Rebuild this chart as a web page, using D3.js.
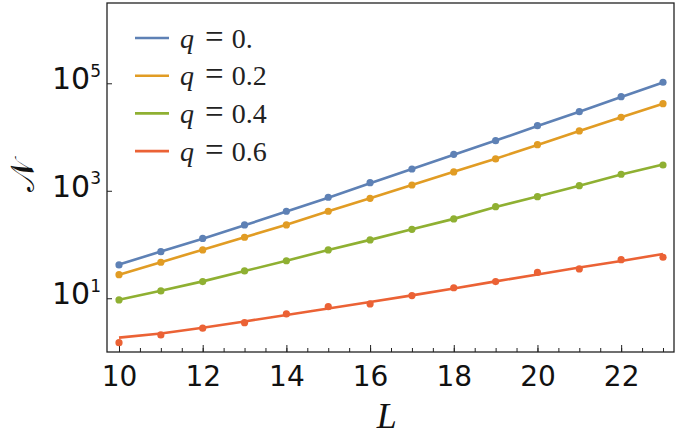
<!DOCTYPE html>
<html>
<head>
<meta charset="utf-8">
<script src="https://cdn.jsdelivr.net/npm/d3@7"></script>
<style>
  body { margin: 0; background: #fff; }
  svg { display: block; }
</style>
</head>
<body>
<div id="chart"></div>
<script>
// sizes of the svg and the frame
var svgWidth = 677;
var svgHeight = 437;
var margin = { top: 3, right: 3, bottom: 85, left: 107 };
var width = svgWidth - margin.left - margin.right;
var height = svgHeight - margin.top - margin.bottom;

// data
var sizes = [10, 11, 12, 13, 14, 15, 16, 17, 18, 19, 20, 21, 22, 23];
var qLabels = ["0.", "0.2", "0.4", "0.6"];
var colors = ["#5E81B5", "#E19C24", "#8FB032", "#EB6235"];

// points
var countQ0 = [41.7, 73.6, 130, 231, 416, 757, 1416, 2540, 4775, 8550, 16250, 29630, 56360, 104500];
var countQ2 = [27.5, 46.8, 79.2, 136.5, 231, 416, 725, 1281, 2238, 3908, 7211, 12970, 23300, 41700];
var countQ4 = [9.3, 13.7, 20.4, 32.2, 49.9, 79.2, 121.6, 192, 299, 506, 777, 1245, 2028, 3020];
var countQ6 = [1.49, 2.08, 2.77, 3.52, 5.10, 6.98, 7.83, 11.2, 15.7, 20.4, 30.2, 35.1, 52.2, 57.9];

// fitted curves (drawn as lines)
var fitQ0 = [42.5, 74, 128, 228, 410, 745, 1380, 2540, 4700, 8600, 16000, 29500, 55500, 103000];
var fitQ2 = [27.5, 47, 80, 137, 233, 415, 725, 1281, 2250, 3950, 7100, 12900, 23300, 41700];
var fitQ4 = [9.4, 13.8, 20.6, 32, 50, 79, 122, 192, 300, 500, 780, 1240, 2000, 3080];
var fitQ6 = [1.85, 2.21, 2.83, 3.70, 4.89, 6.46, 8.53, 11.3, 15.2, 20.6, 27.7, 37.4, 49.4, 66.7];

var counts = [countQ0, countQ2, countQ4, countQ6];
var fits = [fitQ0, fitQ2, fitQ4, fitQ6];

var yTickValues = [10, 1000, 100000];
var yTickPowers = ["1", "3", "5"];

var svg = d3.select("#chart")
  .append("svg")
  .attr("width", svgWidth)
  .attr("height", svgHeight);

var chartGroup = svg.append("g")
  .attr("transform", `translate(${margin.left}, ${margin.top})`);

// scales
var xScale = d3.scaleLinear()
  .domain([9.713, 23.263])
  .range([0, width]);

var yScale = d3.scaleLog()
  .domain([1, Math.pow(10, 6.494)])
  .range([height, 0]);

// bottom axis: minor ticks every 0.5, labels every 2
var xMinor = d3.range(20, 47).map(d => d / 2);
chartGroup.append("g")
  .attr("transform", `translate(0, ${height})`)
  .call(d3.axisBottom(xScale).tickValues(xMinor).tickSize(-4).tickFormat(""))
  .call(g => g.select(".domain").remove())
  .selectAll("line").attr("stroke", "#222");

var xAxis = chartGroup.append("g")
  .attr("transform", `translate(0, ${height})`)
  .call(d3.axisBottom(xScale).tickValues([10, 12, 14, 16, 18, 20, 22]).tickSize(-7).tickPadding(14));
xAxis.select(".domain").remove();
xAxis.selectAll("line").attr("stroke", "#222");
xAxis.selectAll("text")
  .attr("fill", "#111")
  .attr("font-family", "DejaVu Sans")
  .attr("font-size", "28px")
  .attr("dy", "0.71em");

// left axis ticks with powers of ten
var yAxis = chartGroup.append("g")
  .call(d3.axisLeft(yScale).tickValues(yTickValues).tickSize(-5).tickFormat(""));
yAxis.select(".domain").remove();
yAxis.selectAll("line").attr("stroke", "#222");

var yLabels = chartGroup.append("g")
  .selectAll("text")
  .data(yTickValues)
  .enter()
  .append("text")
  .attr("x", -6)
  .attr("y", d => yScale(d))
  .attr("dy", "0.38em")
  .attr("text-anchor", "end")
  .attr("font-family", "DejaVu Sans")
  .attr("fill", "#111");
yLabels.append("tspan")
  .attr("font-size", "30px")
  .text("10");
yLabels.append("tspan")
  .attr("font-size", "17px")
  .attr("dy", "-0.75em")
  .text((d, i) => yTickPowers[i]);

// frame
chartGroup.append("rect")
  .attr("width", width)
  .attr("height", height)
  .attr("fill", "none")
  .attr("stroke", "#222")
  .attr("stroke-width", 1.3);

// fit lines
var line = d3.line()
  .x((d, i) => xScale(sizes[i]))
  .y(d => yScale(d));

chartGroup.selectAll(".fit")
  .data(fits)
  .enter()
  .append("path")
  .attr("class", "fit")
  .attr("d", d => line(d))
  .attr("fill", "none")
  .attr("stroke", (d, i) => colors[i])
  .attr("stroke-width", 2.6);

// points
counts.forEach(function (series, k) {
  chartGroup.append("g")
    .selectAll("circle")
    .data(series)
    .enter()
    .append("circle")
    .attr("cx", (d, i) => xScale(sizes[i]))
    .attr("cy", d => yScale(d))
    .attr("r", 3.6)
    .attr("fill", colors[k]);
});

// legend
var legend = svg.append("g")
  .attr("transform", "translate(135, 38)");

var rows = legend.selectAll("g")
  .data(qLabels)
  .enter()
  .append("g")
  .attr("transform", (d, i) => `translate(0, ${i * 37.7})`);

rows.append("line")
  .attr("x1", 0)
  .attr("x2", 34)
  .attr("stroke", (d, i) => colors[i])
  .attr("stroke-width", 2.6);

var rowText = rows.append("text")
  .attr("x", 45)
  .attr("y", 9.5)
  .attr("font-family", "Liberation Serif")
  .attr("font-size", "28px")
  .attr("fill", "#222");
rowText.append("tspan")
  .attr("font-style", "italic")
  .text("q");
rowText.append("tspan")
  .attr("dx", 11)
  .attr("font-size", "33px")
  .text("=");
rowText.append("tspan")
  .attr("dx", 8)
  .text(d => d);

// axis titles
svg.append("text")
  .attr("x", margin.left + xScale(16.4))
  .attr("y", 428)
  .attr("text-anchor", "middle")
  .attr("font-family", "Liberation Serif")
  .attr("font-style", "italic")
  .attr("font-size", "36px")
  .attr("fill", "#111")
  .text("L");

svg.append("text")
  .attr("transform", "translate(34, 176) rotate(-90)")
  .attr("text-anchor", "middle")
  .attr("font-family", "DejaVu Serif")
  .attr("font-size", "33px")
  .attr("fill", "#111")
  .text("\u{1D4A9}");
</script>
</body>
</html>
